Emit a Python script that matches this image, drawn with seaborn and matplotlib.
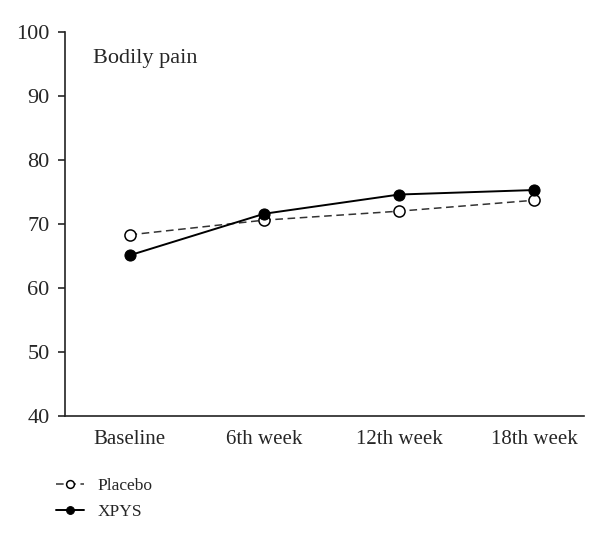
import pandas as pd
import matplotlib.pyplot as plt
import seaborn as sns

weeks = ['Baseline', '6th week', '12th week', '18th week']
placebo = [68.3, 70.6, 72.0, 73.7]
xpys = [65.1, 71.6, 74.6, 75.3]

df = pd.DataFrame({'week': weeks * 2,
                   'score': placebo + xpys,
                   'group': ['Placebo'] * 4 + ['XPYS'] * 4})

sns.set_style('ticks')
plt.rcParams['font.family'] = ['Liberation Serif', 'DejaVu Serif']

fig = plt.figure(figsize=(6, 5.41), dpi=100)
ax = fig.add_axes([0.108, 0.231, 0.865, 0.71])

sns.lineplot(data=df[df.group == 'Placebo'], x='week', y='score', sort=False,
             color='#333333', linestyle=(0, (5, 3)), linewidth=1.1,
             marker='o', markersize=8, markerfacecolor='white',
             markeredgecolor='black', markeredgewidth=1.1, label='Placebo', ax=ax)
sns.lineplot(data=df[df.group == 'XPYS'], x='week', y='score', sort=False,
             color='black', linewidth=1.4,
             marker='o', markersize=8, markerfacecolor='black',
             markeredgecolor='black', label='XPYS', ax=ax)

ax.set_ylim(40, 100)
ax.set_yticks(range(40, 101, 10))
ax.set_xlim(-0.48, 3.37)
ax.set(xlabel=None, ylabel=None)
ax.tick_params(axis='y', labelsize=16, length=5, width=1.2, direction='out', pad=6)
ax.tick_params(axis='x', labelsize=15, length=0, pad=10)
ax.spines['right'].set_visible(False)
ax.spines['top'].set_visible(False)
for s in ['left', 'bottom']:
    ax.spines[s].set_linewidth(1.2)
    ax.spines[s].set_color('#222222')

ax.text(0.055, 0.955, 'Bodily pain', transform=ax.transAxes, fontsize=16,
        va='top', ha='left')

ax.legend(loc='upper left', bbox_to_anchor=(0.067, 0.145), bbox_transform=fig.transFigure,
          frameon=False, fontsize=12.5, handlelength=1.6, handletextpad=0.8,
          labelspacing=0.55, markerscale=0.7)

plt.savefig('out.png', dpi=100)
